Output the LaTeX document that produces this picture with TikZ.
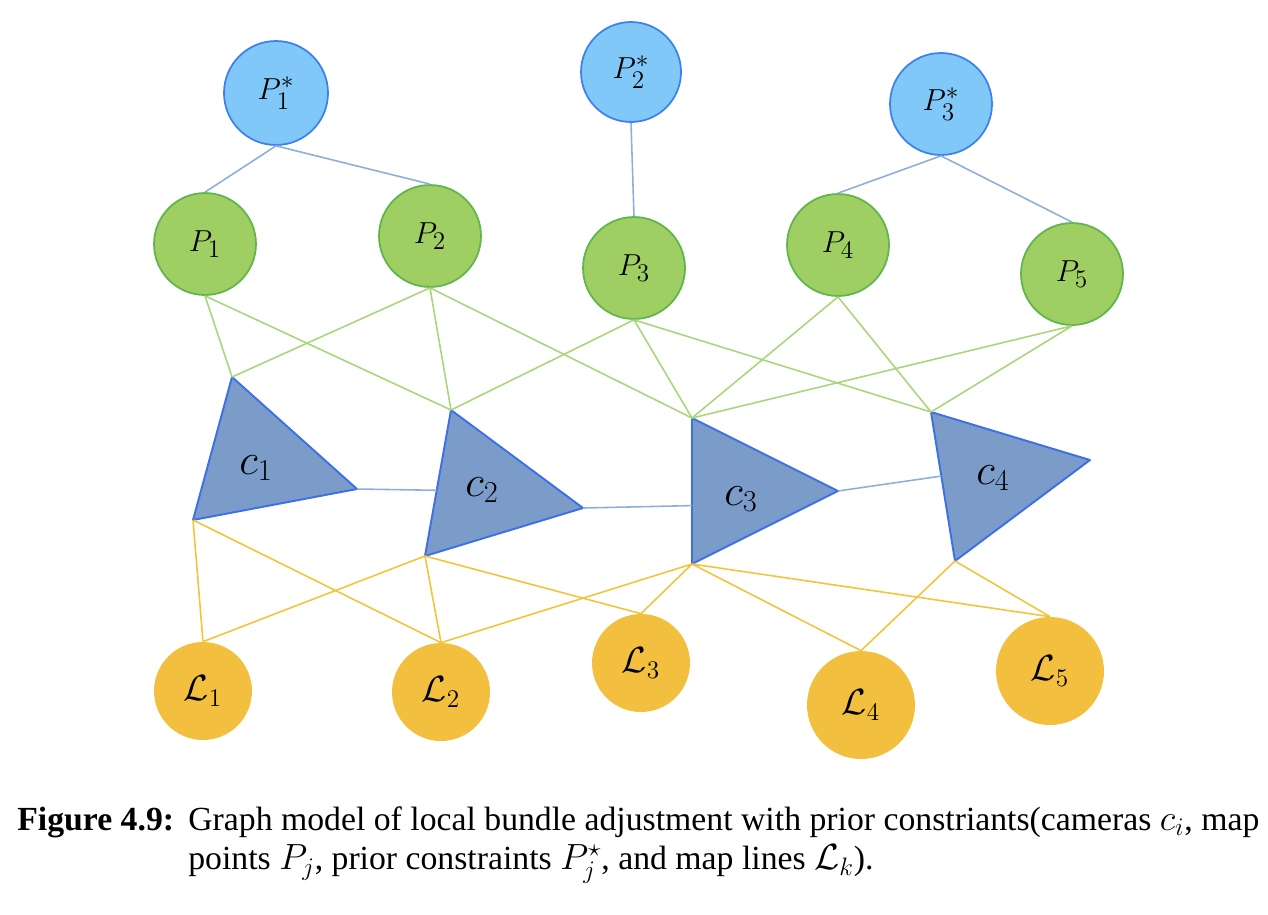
\documentclass[tikz,border=0pt]{standalone}
\usepackage{amsmath,amssymb}
\usepackage{fontspec}
\setmainfont{Liberation Serif}
\usepackage{tikz}
\usetikzlibrary{calc}
\usepackage{xcolor}
\definecolor{starfill}{HTML}{80C8F8}
\definecolor{stardraw}{HTML}{3F80F0}
\definecolor{ptfill}{HTML}{9FCE62}
\definecolor{ptdraw}{HTML}{5FB64C}
\definecolor{camfill}{HTML}{7B9CC8}
\definecolor{camdraw}{HTML}{3C6FE8}
\definecolor{lnfill}{HTML}{F3BF3E}
\definecolor{bluelink}{HTML}{8CAFDD}
\definecolor{greenlink}{HTML}{A9D67A}
\definecolor{yellowlink}{HTML}{F3C43A}

\begin{document}
\begin{tikzpicture}[
        x=0.02cm, y=-0.02cm,
        prior/.style={circle, draw=stardraw, fill=starfill, line width=1pt, minimum size=2.04cm, inner sep=0pt, font=\fontsize{19}{21}\selectfont},
        point/.style={circle, draw=ptdraw, fill=ptfill, line width=1pt, minimum size=2.04cm, inner sep=0pt, font=\fontsize{19}{21}\selectfont},
        mapline/.style={circle, fill=lnfill, minimum size=1.96cm, inner sep=0pt, font=\fontsize{21}{23}\selectfont},
        cam/.style={draw=camdraw, fill=camfill, line width=1.1pt, line join=round},
        camlabel/.style={inner sep=0pt, font=\fontsize{24}{26}\selectfont},
        blink/.style={draw=bluelink, line width=0.9pt},
        glink/.style={draw=greenlink, line width=0.9pt},
        ylink/.style={draw=yellowlink, line width=0.9pt},
        captext/.style={inner sep=0pt, anchor=base west, font=\fontsize{19.2}{21}\selectfont}
    ]
        \useasboundingbox (0,0) rectangle (1268,914);

        % prior constraints
        \node[prior, minimum size=2.08cm] (ps1) at (276,93) {$P_1^{*}$};
        \node[prior, minimum size=2.0cm] (ps2) at (631,72) {$P_2^{*}$};
        \node[prior] (ps3) at (941,104) {$P_3^{*}$};

        % map points
        \node[point] (p1) at (205,244) {$P_1$};
        \node[point] (p2) at (430,236) {$P_2$};
        \node[point] (p3) at (634,268) {$P_3$};
        \node[point] (p4) at (838,245) {$P_4$};
        \node[point] (p5) at (1072,274) {$P_5$};

        % cameras
        \coordinate (c1a) at (232,377); \coordinate (c1b) at (357,489); \coordinate (c1c) at (193,520);
        \coordinate (c2a) at (451,410); \coordinate (c2b) at (583,508); \coordinate (c2c) at (425,556);
        \coordinate (c3a) at (692,418); \coordinate (c3b) at (838,491); \coordinate (c3c) at (692,564);
        \coordinate (c4a) at (931,412); \coordinate (c4b) at (1090,460); \coordinate (c4c) at (955,561);
        \draw[cam] (c1a) -- (c1b) -- (c1c) -- cycle;
        \draw[cam] (c2a) -- (c2b) -- (c2c) -- cycle;
        \draw[cam] (c3a) -- (c3b) -- (c3c) -- cycle;
        \draw[cam] (c4a) -- (c4b) -- (c4c) -- cycle;
        \node[camlabel] (c1) at (256,468) {$c_1$};
        \node[camlabel] (c2) at (482,490) {$c_2$};
        \node[camlabel] (c3) at (741,499) {$c_3$};
        \node[camlabel] (c4) at (993,478) {$c_4$};

        % map lines
        \node[mapline] (l1) at (203,691) {$\mathcal{L}_1$};
        \node[mapline] (l2) at (441,692) {$\mathcal{L}_2$};
        \node[mapline] (l3) at (641,663) {$\mathcal{L}_3$};
        \node[mapline, minimum size=2.16cm] (l4) at (861,705) {$\mathcal{L}_4$};
        \node[mapline, minimum size=2.16cm] (l5) at (1050,671) {$\mathcal{L}_5$};

        % links
        \draw[blink] (ps1.south) -- (p1.north) (ps1.south) -- (p2.north);
        \draw[blink] (ps2.south) -- (p3.north);
        \draw[blink] (ps3.south) -- (p4.north) (ps3.south) -- (p5.north);

        \draw[glink] (p1.south) -- (c1a) (p1.south) -- (c2a);
        \draw[glink] (p2.south) -- (c1a) (p2.south) -- (c2a) (p2.south) -- (c3a);
        \draw[glink] (p3.south) -- (c2a) (p3.south) -- (c3a) (p3.south) -- (c4a);
        \draw[glink] (p4.south) -- (c3a) (p4.south) -- (c4a);
        \draw[glink] (p5.south) -- (c3a) (p5.south) -- (c4a);

        \draw[blink] (c1b) -- ($(c2a)!0.55!(c2c)$);
        \draw[blink] (c2b) -- ($(c3a)!0.6!(c3c)$);
        \draw[blink] (c3b) -- ($(c4a)!0.43!(c4c)$);

        \draw[ylink] (c1c) -- (l1.north) (c1c) -- (l2.north);
        \draw[ylink] (c2c) -- (l1.north) (c2c) -- (l2.north) (c2c) -- (l3.north);
        \draw[ylink] (c3c) -- (l2.north) (c3c) -- (l3.north) (c3c) -- (l4.north) (c3c) -- (l5.north);
        \draw[ylink] (c4c) -- (l4.north) (c4c) -- (l5.north);

        % caption
        \node[captext, font=\fontsize{19.2}{21}\selectfont\bfseries] (fig) at (17,830) {Figure 4.9:};
        \node[captext, anchor=north west, align=left] (cap) at (188,806)
            {Graph model of local bundle adjustment with prior constriants(cameras $c_i$, map\\[1.5pt]
             points $P_j$, prior constraints $P_j^{\star}$, and map lines $\mathcal{L}_k$).};
    \end{tikzpicture}
\end{document}
